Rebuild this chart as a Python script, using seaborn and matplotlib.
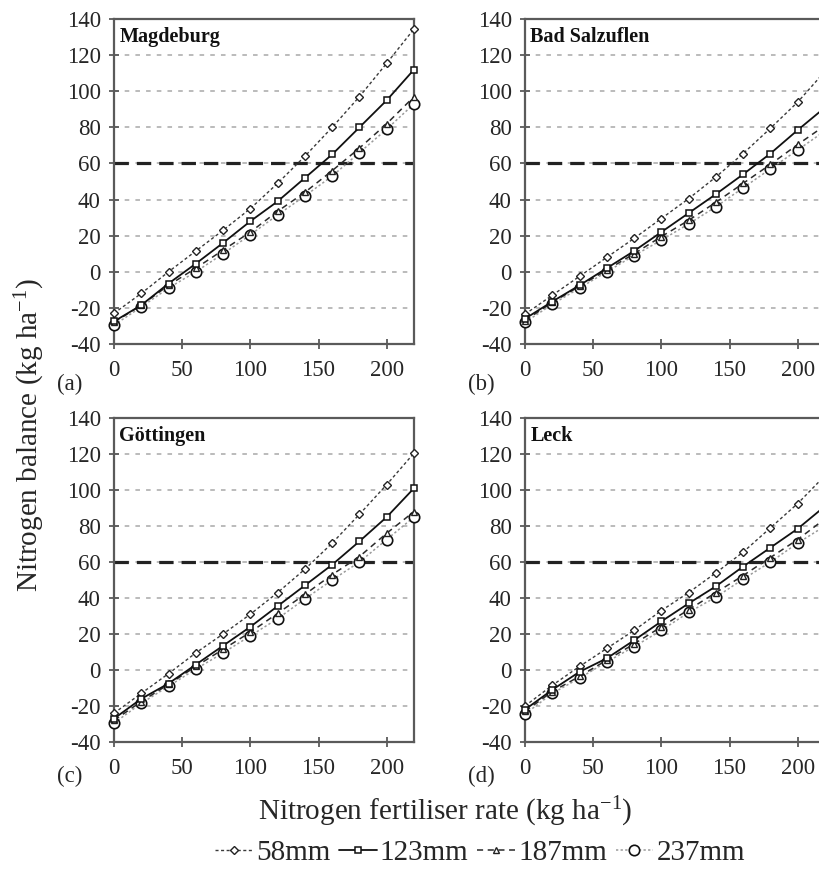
import numpy as np
import pandas as pd
import matplotlib
matplotlib.use("Agg")
import matplotlib.pyplot as plt
import seaborn as sns

# ---------------- data ----------------
fert_rate = [0, 20, 40, 60, 80, 100, 120, 140, 160, 180, 200, 220]
series_names = ["58mm", "123mm", "187mm", "237mm"]
site_names = ["Magdeburg", "Bad Salzuflen", "Göttingen", "Leck"]
panel_letters = ["(a)", "(b)", "(c)", "(d)"]
y_ticks = [-40, -20, 0, 20, 40, 60, 80, 100, 120, 140]
x_ticks = [0, 50, 100, 150, 200]
threshold = 60

magdeburg_58 = [-23, -12, 0, 11.5, 23, 35, 49, 64, 80, 97, 115.5, 134.5]
magdeburg_123 = [-27.5, -18.5, -6.5, 4.5, 16, 28, 39, 52, 65, 80, 95, 112]
magdeburg_187 = [-28, -18.5, -7.5, 2, 12, 22, 33.5, 44, 56, 68.5, 82, 97]
magdeburg_237 = [-29.5, -19.5, -9, 0, 10, 20.5, 31.5, 42, 53, 66, 79, 93]

salzuflen_58 = [-23.5, -13, -2.5, 8, 18.5, 29.5, 40.5, 52.5, 65.5, 79.5, 94, 111]
salzuflen_123 = [-26, -16.5, -7.5, 2, 11.5, 22, 32.5, 43, 54, 65.5, 78.5, 91]
salzuflen_187 = [-27, -17, -8, 1, 10, 19.5, 28.5, 38.5, 49, 59.5, 70.5, 81]
salzuflen_237 = [-28, -18, -9, 0, 9, 17.5, 26.5, 36, 46.5, 57, 67.5, 78]

goettingen_58 = [-24, -13, -2, 9.5, 20, 31, 43, 56, 70.5, 86.5, 103, 120.5]
goettingen_123 = [-27, -16, -7.5, 3, 13.5, 24, 35.5, 47, 58.5, 71.5, 85, 101]
goettingen_187 = [-28, -17.5, -8, 2, 11.5, 21, 31.5, 42, 53, 63, 76, 88]
goettingen_237 = [-29.5, -18.5, -9, 0.5, 9.5, 19, 28.5, 39.5, 50, 60, 72.5, 85]

leck_58 = [-20, -8.5, 2, 12, 22, 33, 43, 54, 65.5, 79, 92.5, 108]
leck_123 = [-22, -11, -1, 6.5, 16.5, 27, 37, 46.5, 57.5, 68, 78.5, 91]
leck_187 = [-23, -12, -3.5, 5.5, 14.5, 24, 33.5, 43, 52.5, 62.5, 72.5, 84]
leck_237 = [-24.5, -13, -4.5, 4.5, 13, 22, 32, 40.5, 50.5, 60, 70.5, 80]

site_data = [
    [magdeburg_58, magdeburg_123, magdeburg_187, magdeburg_237],
    [salzuflen_58, salzuflen_123, salzuflen_187, salzuflen_237],
    [goettingen_58, goettingen_123, goettingen_187, goettingen_237],
    [leck_58, leck_123, leck_187, leck_237],
]

# ---------------- style ----------------
sns.set_style("white")
plt.rcParams["font.family"] = ["Liberation Serif", "DejaVu Serif"]
plt.rcParams["mathtext.fontset"] = "custom"
plt.rcParams["mathtext.rm"] = "Liberation Serif"
plt.rcParams["mathtext.it"] = "Liberation Serif:italic"
plt.rcParams["mathtext.bf"] = "Liberation Serif:bold"
plt.rcParams["axes.unicode_minus"] = False

series_style = {
    "58mm": dict(color="#3a3a3a", linestyle=(0, (2.2, 1.8)), linewidth=1.0,
                 marker="D", markersize=4.2, markerfacecolor="white",
                 markeredgecolor="#222222", markeredgewidth=1.0, zorder=4),
    "123mm": dict(color="#111111", linestyle="-", linewidth=1.3,
                  marker="s", markersize=5, markerfacecolor="white",
                  markeredgecolor="#111111", markeredgewidth=1.1, zorder=5),
    "187mm": dict(color="#2a2a2a", linestyle=(0, (4, 3)), linewidth=1.1,
                  marker="^", markersize=5, markerfacecolor="white",
                  markeredgecolor="#222222", markeredgewidth=1.0, zorder=4),
    "237mm": dict(color="#9a9a9a", linestyle=(0, (1.5, 1.5)), linewidth=1.1,
                  marker="o", markersize=7.5, markerfacecolor="white",
                  markeredgecolor="#111111", markeredgewidth=1.2, zorder=3),
}

W, H = 820, 876
fig = plt.figure(figsize=(W / 100, H / 100), dpi=100)


def rect(l, t, w, h):
    return [l / W, 1 - (t + h) / H, w / W, h / H]


axes_rects = [rect(114, 19, 300, 325), rect(525, 19, 300, 325),
              rect(114, 418, 300, 324), rect(525, 418, 300, 324)]
letter_pos = [(57, 384), (468, 384), (57, 776), (468, 776)]

for i, (site, rc) in enumerate(zip(site_names, axes_rects)):
    ax = fig.add_axes(rc)
    for name, vals in zip(series_names, site_data[i]):
        df = pd.DataFrame({"x": fert_rate, "y": vals})
        sns.lineplot(data=df, x="x", y="y", ax=ax, legend=False,
                     errorbar=None, label=name, clip_on=False,
                     **series_style[name])
    ax.axhline(threshold, color="#222222", lw=2.3, ls=(0, (4.5, 2.5)), zorder=2)
    ax.set_xlim(0, 220)
    ax.set_ylim(-40, 140)
    ax.set_yticks(y_ticks)
    ax.set_xticks(x_ticks)
    ax.yaxis.grid(True, color="#a8a8a8", linestyle=(0, (3, 4)), linewidth=1.1)
    ax.xaxis.grid(False)
    ax.set_axisbelow(True)
    for sp in ax.spines.values():
        sp.set_color("#5a5a5a")
        sp.set_linewidth(1.6)
    ax.tick_params(axis="both", direction="inout", length=7, width=1.3,
                   color="#5a5a5a", labelsize=16.5, pad=6, left=True, bottom=True)
    ax.tick_params(axis="x", pad=8)
    ax.set_xlabel("")
    ax.set_ylabel("")
    ax.text(0.018, 0.975, site, transform=ax.transAxes, ha="left", va="top",
            fontsize=14.5, fontweight="bold", color="#111111")
    lx, ly = letter_pos[i]
    fig.text(lx / W, 1 - ly / H, panel_letters[i], ha="left", va="center",
             fontsize=16.5)
    if i == 0:
        handles, labels = ax.get_legend_handles_labels()

fig.text(30 / W, 1 - 435 / H, "Nitrogen balance (kg ha$^{\\mathregular{-1}}$)",
         rotation=90, ha="center", va="center", fontsize=21)
fig.text(445 / W, 1 - 812 / H, "Nitrogen fertiliser rate (kg ha$^{\\mathregular{-1}}$)",
         ha="center", va="center", fontsize=21)
fig.legend(handles, labels, loc="center", bbox_to_anchor=(480 / W, 1 - 853 / H),
           ncol=4, frameon=False, fontsize=21, handlelength=1.3,
           handletextpad=0.1, columnspacing=0.3, borderaxespad=0)

fig.savefig("out.png", dpi=100)
